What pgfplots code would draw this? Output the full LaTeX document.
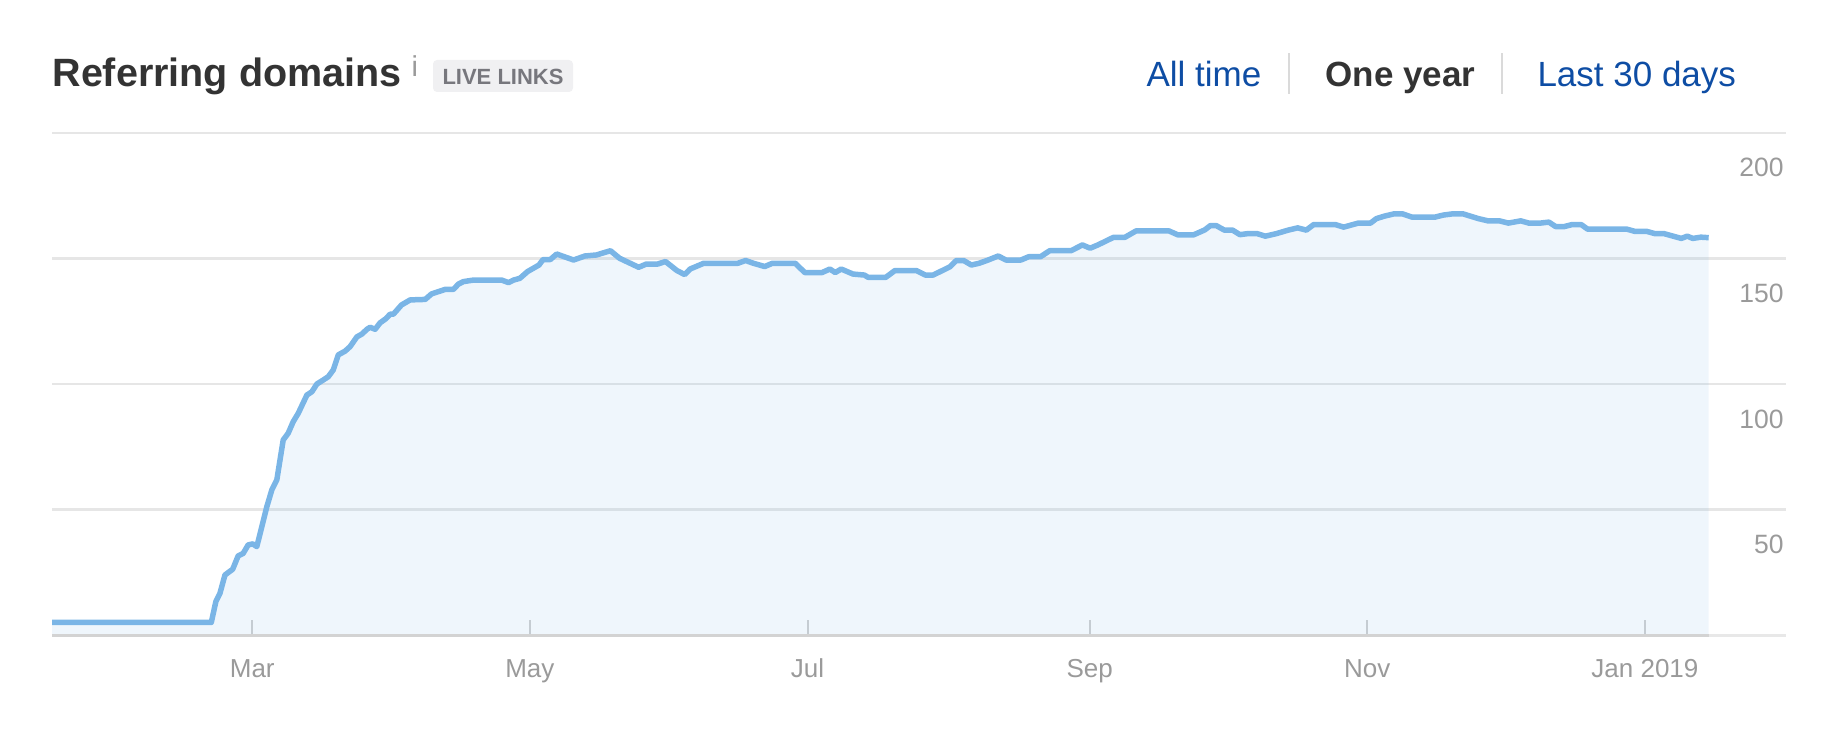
\documentclass[border=0pt]{standalone}
\usepackage{fontspec}
\setmainfont{Liberation Sans}
\usepackage{pgfplots}
\usepackage{pgfplotstable}
\pgfplotsset{compat=1.18}
\definecolor{linec}{HTML}{7AB5E6}
\definecolor{gridc}{HTML}{E6E6E6}
\definecolor{tickc}{HTML}{9A9A9A}
\definecolor{titlec}{HTML}{333333}
\definecolor{linkc}{HTML}{0E4DA4}
\definecolor{badgebg}{HTML}{F0F0F2}
\definecolor{badgefg}{HTML}{77777D}
\definecolor{sepc}{HTML}{DADADA}
\definecolor{axisdark}{HTML}{D3D3D3}
\definecolor{axislight}{HTML}{E8E8E8}
\definecolor{tickmark}{HTML}{D0D0D0}

% day of year (0 = 1 Jan 2018), referring domains
\pgfplotstableread{
d v
15 5
50 5
51 13.3
51.9 16.6
53 23.9
54.7 26.2
55.9 31.5
57 32.5
58.1 35.9
59.1 36.3
60 35.2
62.2 51.1
63.3 57.8
64.4 61.8
65.8 77.7
66.9 80.4
68 85
69.1 88.3
71 95.6
72.1 96.9
73.2 100
74.6 101.6
75.7 102.9
76.8 105.6
77.9 111.6
79.4 113.1
80.5 114.9
82 118.8
83.1 119.9
84.2 121.8
84.9 122.6
86 121.8
87.1 124.4
88.2 125.8
89.3 127.8
90 127.8
91.8 131.5
93.7 133.5
97 133.7
98.4 135.9
99.9 136.8
101.4 137.7
103.2 137.7
104.3 139.8
105.4 140.8
107.6 141.4
113.8 141.4
115.3 140.4
116.4 141.4
117.8 142.1
119.5 144.8
122 147.4
122.9 149.6
124.5 149.6
125.9 151.8
127.1 151
129.6 149.4
132.1 151
134.6 151.4
137.7 153.1
139.7 150.1
143.9 146.5
145.6 147.8
148.1 147.8
149.8 148.8
152.3 145.2
154 143.6
155.2 145.8
158.2 148.1
165.7 148.1
167.4 149.2
169.1 148.1
171.6 146.8
173.3 148.1
178.3 148.1
180.4 144.4
184.2 144.4
185.9 145.8
187.1 144.4
188.4 145.8
191 143.8
193.5 143.4
194.3 142.5
198.2 142.5
200.2 145.2
204.9 145.2
206.9 143.4
208.6 143.4
212.3 146.7
213.7 149.2
215.3 149.2
217 147.4
218.7 148.1
220.7 149.4
222.9 151
224.6 149.4
227.9 149.4
229.6 150.7
232.2 150.7
234.2 153.1
238.9 153.1
241.4 155.4
243.1 154.1
244.8 155.4
248.2 158.4
250.7 158.4
253.2 161
260.4 161
262.4 159.4
265.8 159.4
268.3 161.4
269.5 163.1
270.8 163.1
272.6 161.3
274.4 161.3
276 159.5
277.7 159.9
279.8 159.9
281.6 158.9
284 159.9
286.6 161.3
288.7 162.2
290.6 161.3
292.2 163.5
294.5 163.5
297 163.5
298.8 162.5
302 164.1
304.7 164.1
306 165.9
307.8 166.9
309.9 167.8
311.7 167.8
313.8 166.5
318.9 166.5
320.7 167.3
322.8 167.8
325 167.8
326.6 166.9
328.4 165.9
330.5 165
333 165
335 164.1
337.7 165
339.5 164.1
342 164.1
343.9 164.5
345.4 162.7
347.2 162.7
349 163.5
351 163.5
352.4 161.7
355 161.7
361 161.7
362.8 160.8
365.4 160.8
367.2 159.9
369.2 159.9
371.2 158.9
373 158
374.3 158.9
375.5 158
377.3 158.5
379 158.3
}\rd

\begin{document}
\begin{tikzpicture}
\useasboundingbox (0pt,0pt) rectangle (735.2pt,292pt);

% header
\node[anchor=base west, inner sep=0pt, text=titlec, font=\fontsize{15.8pt}{18pt}\selectfont\bfseries] at (20.8pt,257.2pt) {Referring domains};
\node[anchor=base west, inner sep=0pt, text=tickc, font=\fontsize{11.5pt}{13pt}\selectfont] at (164.4pt,261.2pt) {i};
\fill[badgebg, rounded corners=1.6pt] (173.2pt,255.2pt) rectangle (229.2pt,268pt);
\node[anchor=center, inner sep=0pt, text=badgefg, font=\fontsize{8.8pt}{10pt}\selectfont\bfseries] at (201.2pt,261.4pt) {LIVE LINKS};

\node[anchor=base west, inner sep=0pt, text=linkc, font=\fontsize{14pt}{16pt}\selectfont] at (458.4pt,257.2pt) {All time};
\draw[sepc, line width=1.1pt] (515.6pt,254.4pt) -- (515.6pt,270.8pt);
\node[anchor=base west, inner sep=0pt, text=titlec, font=\fontsize{14pt}{16pt}\selectfont\bfseries] at (530pt,257.2pt) {One year};
\draw[sepc, line width=1.1pt] (600.8pt,254.4pt) -- (600.8pt,270.8pt);
\node[anchor=base west, inner sep=0pt, text=linkc, font=\fontsize{14pt}{16pt}\selectfont] at (614.8pt,257.2pt) {Last 30 days};

\begin{axis}[
  at={(20.8pt,38pt)}, anchor=south west,
  scale only axis, width=693.6pt, height=200.8pt,
  xmin=15, xmax=396, ymin=0, ymax=200,
  axis line style={draw=none},
  xtick={59,120,181,243,304,365},
  xticklabels={Mar,May,Jul,Sep,Nov,Jan 2019},
  xtick pos=bottom, tick align=inside,
  major tick length=6pt,
  xtick style={draw=tickmark, line width=0.8pt},
  ytick={50,100,150,200},
  yticklabels={50,100,150,200},
  ytick style={draw=none},
  yticklabel pos=right,
  ymajorgrids, grid style={draw=gridc, line width=0.9pt},
  /pgf/number format/assume math mode=true,
  xticklabel style={font=\fontsize{10.4pt}{12pt}\selectfont, text=tickc, anchor=base, inner sep=0pt, yshift=-16.8pt},
  yticklabel style={font=\fontsize{10.6pt}{12pt}\selectfont, text=tickc, anchor=base east, inner sep=0pt, yshift=-17.6pt, xshift=-0.8pt},
  clip=false,
]
\addplot[draw=none, fill=linec, fill opacity=0.12] table[x=d,y=v]{\rd} \closedcycle;
\addplot[linec, line width=2.2pt, line join=round, line cap=butt] table[x=d,y=v]{\rd};
\draw[axislight, line width=1.2pt] (axis cs:379,0) -- (axis cs:396,0);
\draw[axisdark, line width=1.2pt] (axis cs:15,0) -- (axis cs:379,0);
\end{axis}
\end{tikzpicture}
\end{document}
